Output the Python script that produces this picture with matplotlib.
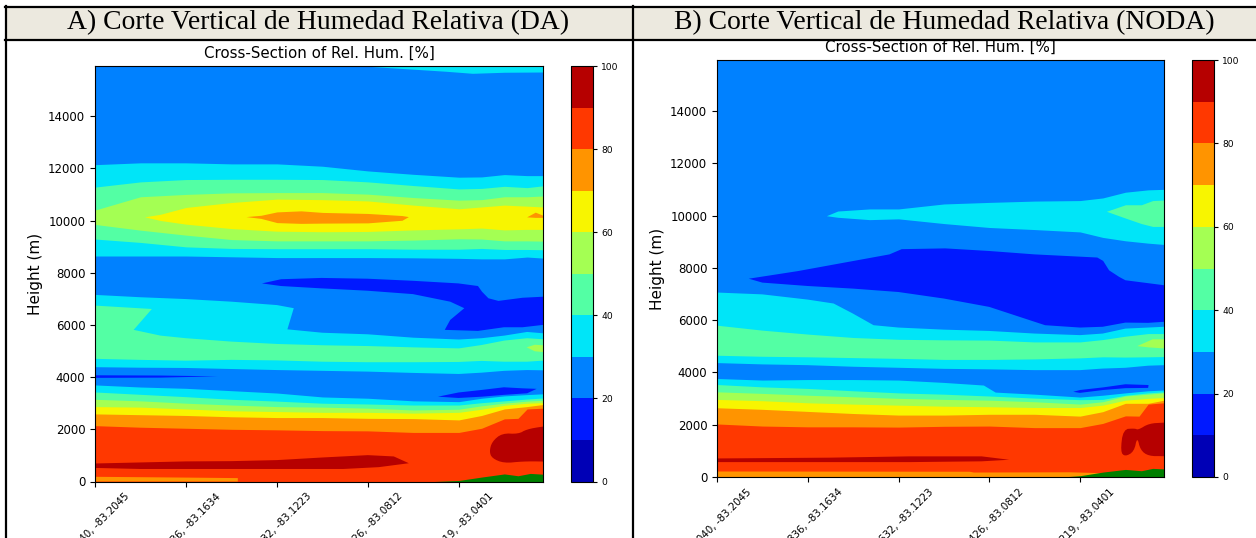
import matplotlib
matplotlib.use("Agg")
import matplotlib.pyplot as plt
from matplotlib.colors import BoundaryNorm, ListedColormap
from matplotlib.cm import ScalarMappable
from matplotlib.patches import Rectangle
from matplotlib.lines import Line2D
from matplotlib.transforms import ScaledTranslation

W, H = 1256, 538
HEADERS = ["A) Corte Vertical de Humedad Relativa (DA)", "B) Corte Vertical de Humedad Relativa (NODA)"]
TITLE = "Cross-Section of Rel. Hum. [%]"
LEVELS = list(range(0, 110, 10))
XTICKS = [0, 20, 40, 60, 80]
XLABELS_A = ["040, -83.2045", "836, -83.1634", "632, -83.1223", "426, -83.0812", "219, -83.0401"]
XLABELS_B = XLABELS_A
YTICKS = list(range(0, 16000, 2000))

S = [0, 10, 20, 30, 40, 50, 60, 70, 80, 85, 90, 95, 98.5]
S_KNEE_A = [0, 10, 20, 30, 40, 50, 60, 70, 80, 85, 90, 93, 95, 98.5]

# ---------- Panel A (DA) : relative-humidity band outlines, height in metres
a_wedge_x = [59, 68, 77, 83, 90, 98.5]
a_wedge_bot = [15920, 15820, 15720, 15640, 15680, 15690]
a_c_hi_top = [12140, 12210, 12210, 12170, 12170, 12080, 11900, 11770, 11660, 11670, 11760, 11720, 11720]
a_c_hi_bot = [8640, 8640, 8640, 8610, 8580, 8580, 8580, 8570, 8550, 8530, 8530, 8600, 8560]
a_g_hi_top = [11280, 11480, 11570, 11580, 11580, 11570, 11480, 11340, 11210, 11230, 11310, 11260, 11330]
a_g_hi_bot = [9290, 9160, 8990, 8930, 8920, 8920, 8920, 8900, 8900, 8930, 8890, 8890, 8880]
a_l_hi_top = [10400, 10910, 11000, 11060, 11070, 11070, 11010, 10880, 10780, 10800, 10910, 10910, 10940]
a_l_hi_bot = [9850, 9630, 9440, 9270, 9220, 9220, 9220, 9250, 9300, 9290, 9220, 9220, 9210]
a_y_x = [10.9, 14.4, 20, 30, 40, 50, 60, 70, 80, 85, 90, 95, 98.5]
a_y_top = [10140, 10240, 10500, 10690, 10820, 10800, 10750, 10590, 10450, 10520, 10590, 10550, 10520]
a_y_bot = [10140, 10000, 9860, 9690, 9590, 9570, 9580, 9640, 9680, 9710, 9640, 9660, 9660]
a_o1_x = [33.2, 36.5, 40, 45.3, 50, 60, 67.5, 68.9]
a_o1_top = [10150, 10200, 10330, 10370, 10310, 10270, 10190, 10150]
a_o1_bot = [10150, 10080, 9920, 9890, 9900, 9910, 10010, 10150]
a_o2_x = [94.9, 96.8, 98.5]
a_o2_top = [10140, 10320, 10200]
a_o2_bot = [10140, 10120, 10120]
a_db_x = [36.7, 40.9, 49.8, 59.9, 69.9, 79.9, 84.2, 85.1, 86.5, 88.7, 94, 98.5, 98.5, 94, 89.9, 84.2, 76.9, 78.1, 81.2, 78.1, 69.9, 59.9, 49.8, 40.9]
a_db_h = [7590, 7750, 7800, 7770, 7690, 7590, 7490, 7270, 7020, 6920, 7040, 7080, 6000, 5910, 5910, 5770, 5810, 6190, 6640, 6890, 7180, 7310, 7400, 7490]
a_c_mid_top_x = [0, 10, 20, 30, 40, 43.7, 42.3, 50, 60, 70, 80, 85, 90, 95, 98.5]
a_c_mid_top = [7150, 7060, 6990, 6890, 6760, 6640, 5830, 5700, 5640, 5510, 5440, 5490, 5590, 5730, 5680]
a_c_mid_bot = [4380, 4360, 4350, 4310, 4270, 4240, 4210, 4160, 4120, 4170, 4240, 4270, 4260]
a_g_mid_top_x = [0, 12.5, 8.5, 14.4, 20, 30, 40, 50, 60, 70, 80, 85, 90, 95, 98.5]
a_g_mid_top = [6740, 6610, 5810, 5590, 5490, 5360, 5270, 5220, 5190, 5140, 5100, 5230, 5400, 5490, 5450]
a_g_mid_bot = [4700, 4660, 4630, 4660, 4640, 4590, 4570, 4570, 4580, 4620, 4590, 4590, 4630]
a_l_mid_x = [94.9, 96.7, 98.5, 98.5, 96.7]
a_l_mid_h = [5140, 5240, 5220, 4960, 4990]
a_streak_x = [0, 14.4, 27, 14.4, 0]
a_streak_h = [4070, 4060, 4030, 3980, 3970]
a_c_low_top = [3700, 3620, 3570, 3480, 3390, 3240, 3190, 3090, 3060, 3190, 3280, 3330, 3360]
a_g_low_top = [3430, 3340, 3250, 3150, 3080, 3000, 2970, 2930, 2930, 3020, 3090, 3160, 3200]
a_l_low_top = [3150, 3090, 3000, 2930, 2870, 2850, 2810, 2740, 2770, 2900, 3000, 3080, 3110]
a_y_low_top = [2870, 2850, 2780, 2710, 2680, 2650, 2650, 2620, 2650, 2770, 2920, 3000, 3020]
a_o_low_top = [2590, 2560, 2530, 2480, 2450, 2450, 2420, 2410, 2360, 2530, 2780, 2870, 2950]
a_r_top = [2140, 2080, 2040, 2000, 1980, 1950, 1940, 1880, 1880, 2040, 2400, 2420, 2780, 2810]
a_dr1_x = [0, 10, 20, 30, 40, 50, 60, 65.7, 69, 62.4, 54.6, 40, 30, 20, 10, 0]
a_dr1_h = [690, 730, 770, 780, 820, 920, 1010, 960, 700, 550, 480, 480, 480, 480, 480, 520]
a_dr2_x = [86.7, 87.3, 89.5, 93.1, 94.9, 98.5, 103, 103, 98.5, 94, 89.9, 87.3]
a_dr2_h = [1150, 1530, 1850, 1820, 2000, 2110, 2180, 720, 770, 770, 700, 890]
a_db2_x = [75.4, 79.9, 85.1, 89.9, 94, 97.1, 95, 89.9, 85.1, 79.9]
a_db2_h = [3250, 3410, 3510, 3610, 3570, 3550, 3380, 3320, 3250, 3200]
a_o_gnd_x = [0, 20, 31.4, 31.4, 0]
a_o_gnd_h = [180, 150, 130, 0, 0]
a_ter_x = [74.6, 80, 85, 90, 93, 95.7, 98.5]
a_ter_h = [0, 40, 170, 290, 220, 310, 280]

# ---------- Panel B (NODA)
b_c_hi_x = [24.1, 26.6, 33.6, 40, 50, 60, 70, 80, 85, 90, 95, 98.5]
b_c_hi_top = [10000, 10180, 10260, 10260, 10450, 10510, 10560, 10580, 10680, 10900, 10990, 11010]
b_c_hi_bot = [10000, 9940, 9850, 9880, 9700, 9550, 9470, 9380, 9170, 9040, 8950, 8900]
b_g_hi_x = [85.8, 90, 93.5, 96, 98.5]
b_g_hi_top = [10170, 10420, 10420, 10580, 10600]
b_g_hi_bot = [10170, 9910, 9700, 9590, 9590]
b_db_x = [7, 17.8, 38, 40.7, 50.3, 60, 70, 83.8, 85.1, 86.4, 88.6, 90, 98.5, 98.5, 95, 90, 85, 80, 72.3, 70, 60, 50, 40, 30, 20, 10]
b_db_h = [7590, 7880, 8520, 8720, 8750, 8650, 8520, 8400, 8270, 7910, 7660, 7530, 7340, 5940, 5900, 5910, 5750, 5720, 5810, 5940, 6510, 6830, 7080, 7210, 7310, 7440]
b_c_mid_top_x = [0, 10, 20, 25.7, 29.9, 34.5, 40, 50, 60, 70, 80, 85, 90, 95, 98.5]
b_c_mid_top = [7060, 6990, 6790, 6640, 6260, 5810, 5720, 5640, 5590, 5490, 5430, 5490, 5680, 5720, 5750]
b_c_mid_bot = [4360, 4310, 4280, 4220, 4180, 4140, 4120, 4090, 4090, 4150, 4180, 4260, 4280]
b_g_mid_top = [5810, 5620, 5470, 5340, 5270, 5250, 5240, 5170, 5170, 5260, 5390, 5490, 5490]
b_g_mid_bot = [4660, 4620, 4600, 4570, 4540, 4500, 4500, 4520, 4560, 4600, 4590, 4600, 4610]
b_l_mid_x = [92.6, 96, 98.5, 98.5, 95.2]
b_l_mid_h = [5010, 5270, 5270, 4920, 4960]
b_c_low_x = [0, 10, 20, 30, 40, 50, 58.7, 61.3, 70, 80, 85, 90, 95, 98.5]
b_c_low_top = [3770, 3710, 3730, 3730, 3710, 3620, 3520, 3250, 3170, 3060, 3130, 3220, 3300, 3330]
b_g_low_top = [3540, 3450, 3390, 3300, 3220, 3170, 3100, 3020, 2960, 2970, 3130, 3220, 3260]
b_l_low_top = [3260, 3200, 3130, 3070, 3010, 2970, 2940, 2880, 2790, 2880, 3100, 3170, 3220]
b_y_low_top = [2970, 2920, 2840, 2790, 2750, 2710, 2690, 2660, 2660, 2750, 2940, 3010, 3040]
b_o_low_top = [2650, 2590, 2510, 2430, 2370, 2370, 2400, 2400, 2330, 2500, 2820, 2820, 2940]
b_r_top = [2030, 1950, 1920, 1920, 1910, 1940, 1950, 1890, 1890, 2050, 2340, 2330, 2790, 2840]
b_dr1_x = [0, 24.8, 42.4, 58.3, 64.4, 58.3, 42.4, 0]
b_dr1_h = [710, 740, 790, 790, 660, 600, 570, 570]
b_dr2_x = [88.9, 89.5, 92.1, 92.8, 95.2, 98.5, 103, 103, 98.5, 95.1, 93.3, 92.6, 91.9, 89.9]
b_dr2_h = [970, 1830, 1860, 1800, 2050, 2080, 2130, 760, 800, 800, 1030, 1540, 970, 780]
b_db2_x = [78.5, 80, 85.1, 90, 95.1, 95, 90, 85.1, 80]
b_db2_h = [3260, 3330, 3430, 3550, 3520, 3410, 3400, 3330, 3220]
b_o_gnd_x = [0, 55.6, 56.5, 77.6, 83.8, 86]
b_o_gnd_h = [230, 220, 190, 200, 170, 100]
b_ter_x = [75.9, 80, 85.1, 90, 93.5, 96, 98.5]
b_ter_h = [0, 50, 190, 290, 240, 330, 310]

jet = plt.get_cmap("jet")
BAND = [jet((i + 0.5) / 10) for i in range(10)]
DB10, DB, BLUE, CY, GR, LI, YE, OR, RE, DR = BAND
TERRAIN = "#007f00"


def rect(l, t, r, b):
    return [l / W, 1 - b / H, (r - l) / W, (b - t) / H]


def band(ax, x, lo, hi, c):
    ax.fill_between(x, lo, hi, color=c, lw=0)


def poly(ax, x, y, c):
    ax.fill(x, y, color=c, lw=0)


def round_poly(ax, x, y, c):
    # corner-cut a closed outline so that blobs look rounded
    for _ in range(2):
        nx, ny = [], []
        n = len(x)
        for i in range(n):
            j = (i + 1) % n
            nx += [0.75 * x[i] + 0.25 * x[j], 0.25 * x[i] + 0.75 * x[j]]
            ny += [0.75 * y[i] + 0.25 * y[j], 0.25 * y[i] + 0.75 * y[j]]
        x, y = nx, ny
    ax.fill(x, y, color=c, lw=0)


def outline(x_top, top, x_bot, bot):
    return list(x_top) + list(x_bot)[::-1], list(top) + list(bot)[::-1]


def finish(ax, cax, ytop, xlabels, lab_dx):
    ax.set_xlim(0, 98.5)
    ax.set_ylim(0, ytop)
    ax.set_facecolor(BLUE)
    ax.set_yticks(YTICKS)
    ax.tick_params(axis="y", labelsize=8.5)
    ax.set_ylabel("Height (m)", fontsize=11, labelpad=3.5)
    ax.set_title(TITLE, fontsize=10.8, pad=6)
    ax.set_xticks(XTICKS)
    ax.set_xticklabels(xlabels, fontsize=7.4, rotation=45, ha="right", va="center", rotation_mode="anchor")
    ax.tick_params(axis="x", pad=3.2)
    off = ScaledTranslation(lab_dx / 100, -4 / 100, ax.figure.dpi_scale_trans)
    for t in ax.get_xticklabels():
        t.set_transform(t.get_transform() + off)
    cb = ax.figure.colorbar(ScalarMappable(norm=BoundaryNorm(LEVELS, 10), cmap=ListedColormap(BAND)), cax=cax)
    cb.set_ticks(list(range(0, 120, 20)))
    cb.ax.tick_params(labelsize=6.6, length=3, pad=3)
    cb.minorticks_off()
    cb.outline.set_linewidth(0.8)


fig = plt.figure(figsize=(W / 100, H / 100), dpi=100, facecolor="white")

# header table
fig.add_artist(Rectangle((6 / W, 1 - 40 / H), (W - 6) / W, 33 / H, transform=fig.transFigure, fc="#ece9df", ec="none"))
for (x0, y0, x1, y1) in [(5, 7, W, 7), (5, 39.5, W, 39.5), (6, 6, 6, H), (632.5, 6, 632.5, H)]:
    fig.add_artist(Line2D([x0 / W, x1 / W], [1 - y0 / H, 1 - y1 / H], transform=fig.transFigure, color="black", lw=1.6))
fig.text(318 / W, 1 - 23 / H, HEADERS[0], family="Liberation Serif", fontsize=19.9, ha="center", va="center", color="black")
fig.text(944 / W, 1 - 23 / H, HEADERS[1], family="Liberation Serif", fontsize=19.9, ha="center", va="center", color="black")

# ---------- Panel A
axa = fig.add_axes(rect(95, 66, 543, 481.5))
caxa = fig.add_axes(rect(571, 66, 593, 481.5))
band(axa, a_wedge_x, a_wedge_bot, 15920, CY)
band(axa, S, a_c_hi_bot, a_c_hi_top, CY)
band(axa, S, a_g_hi_bot, a_g_hi_top, GR)
band(axa, S, a_l_hi_bot, a_l_hi_top, LI)
band(axa, a_y_x, a_y_bot, a_y_top, YE)
band(axa, a_o1_x, a_o1_bot, a_o1_top, OR)
band(axa, a_o2_x, a_o2_bot, a_o2_top, OR)
poly(axa, a_db_x, a_db_h, DB)
px, py = outline(a_c_mid_top_x, a_c_mid_top, S, a_c_mid_bot)
poly(axa, px, py, CY)
px, py = outline(a_g_mid_top_x, a_g_mid_top, S, a_g_mid_bot)
poly(axa, px, py, GR)
poly(axa, a_l_mid_x, a_l_mid_h, LI)
poly(axa, a_streak_x, a_streak_h, DB)
band(axa, S, 0, a_c_low_top, CY)
band(axa, S, 0, a_g_low_top, GR)
band(axa, S, 0, a_l_low_top, LI)
band(axa, S, 0, a_y_low_top, YE)
band(axa, S, 0, a_o_low_top, OR)
band(axa, S_KNEE_A, 0, a_r_top, RE)
poly(axa, a_db2_x, a_db2_h, DB)
poly(axa, a_dr1_x, a_dr1_h, DR)
round_poly(axa, a_dr2_x, a_dr2_h, DR)
poly(axa, a_o_gnd_x, a_o_gnd_h, OR)
band(axa, a_ter_x, 0, a_ter_h, TERRAIN)
finish(axa, caxa, 15920, XLABELS_A, 33)

# ---------- Panel B
axb = fig.add_axes(rect(717, 60, 1164, 477))
caxb = fig.add_axes(rect(1192, 60, 1214, 477))
band(axb, b_c_hi_x, b_c_hi_bot, b_c_hi_top, CY)
band(axb, b_g_hi_x, b_g_hi_bot, b_g_hi_top, GR)
poly(axb, b_db_x, b_db_h, DB)
px, py = outline(b_c_mid_top_x, b_c_mid_top, S, b_c_mid_bot)
poly(axb, px, py, CY)
band(axb, S, b_g_mid_bot, b_g_mid_top, GR)
poly(axb, b_l_mid_x, b_l_mid_h, LI)
band(axb, b_c_low_x, 0, b_c_low_top, CY)
band(axb, S, 0, b_g_low_top, GR)
band(axb, S, 0, b_l_low_top, LI)
band(axb, S, 0, b_y_low_top, YE)
band(axb, S, 0, b_o_low_top, OR)
band(axb, S_KNEE_A, 0, b_r_top, RE)
poly(axb, b_db2_x, b_db2_h, DB)
poly(axb, b_dr1_x, b_dr1_h, DR)
round_poly(axb, b_dr2_x, b_dr2_h, DR)
band(axb, b_o_gnd_x, 0, b_o_gnd_h, OR)
band(axb, b_ter_x, 0, b_ter_h, TERRAIN)
finish(axb, caxb, 15960, XLABELS_B, 33)

fig.savefig("out.png", dpi=100)
